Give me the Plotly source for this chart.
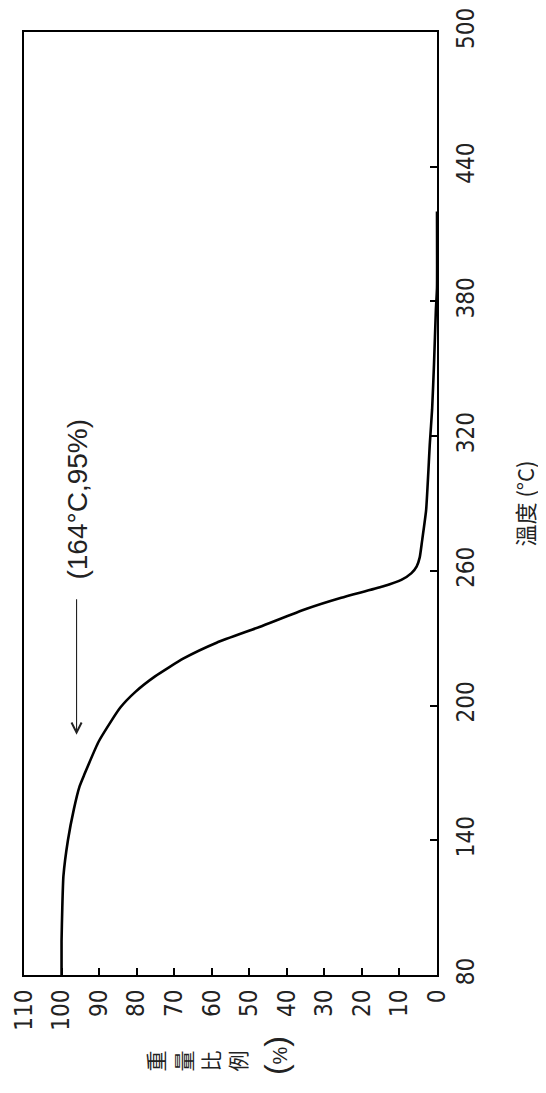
import plotly.graph_objects as go

# Thermogravimetric curve: temperature (°C) vs weight ratio (%)
temperature_c = [80, 95, 110, 124, 140, 154, 164, 169, 184, 199, 206, 213, 221, 228,
                 235, 243, 248, 253, 256, 259, 262, 266, 273, 287, 317, 332, 352, 376,
                 386, 420]
weight_pct = [100, 100, 99.8, 99.5, 98.3, 96.7, 95.2, 94.0, 90.1, 84.4, 80.4, 75.1, 67.5,
              58.7, 47.3, 34.9, 25.5, 14.5, 9.5, 6.8, 5.4, 4.6, 4.0, 2.9, 1.9, 1.3, 0.8,
              0.3, 0.0, 0.0]

temp_ticks = [80, 140, 200, 260, 320, 380, 440, 500]
weight_ticks = [110, 100, 90, 80, 70, 60, 50, 40, 30, 20, 10, 0]

annot_text = "(164°C,95%)"
annot_temp, annot_weight = 292, 96
arrow_tail_temp, arrow_tip_temp, arrow_weight = 248, 187, 96

NUM_FONT = "'Liberation Sans Narrow', 'DejaVu Sans Condensed', 'Liberation Sans', sans-serif"
CJK_FONT = "'Noto Sans CJK TC', 'Noto Sans CJK SC', sans-serif"

fig = go.Figure()
fig.add_trace(go.Scatter(
    x=weight_pct, y=temperature_c, mode="lines",
    line=dict(color="#000", width=2.6, shape="spline", smoothing=0.5),
    showlegend=False, hoverinfo="skip"))

axis_common = dict(ticks="inside", ticklen=7, tickwidth=1.5, tickcolor="#000",
                   showline=True, linecolor="#000", linewidth=1.8, mirror=True,
                   showgrid=False, zeroline=False, automargin=False,
                   ticklabeloverflow="allow", tickangle=-90,
                   tickfont=dict(family=NUM_FONT, size=24, color="#222"))

fig.update_layout(
    template=None,
    width=546, height=1093,
    margin=dict(l=16, r=117, t=24, b=126),
    paper_bgcolor="white", plot_bgcolor="white",
    showlegend=False,
    xaxis=dict(range=[110, 0], tickvals=weight_ticks, ticktext=[str(v) for v in weight_ticks],
               ticklabelstandoff=3, **axis_common),
    yaxis=dict(range=[80, 500], tickvals=temp_ticks, side="right",
               ticklabelstandoff=6, **axis_common,
               title=dict(text="\u00a0\u00a0\u00a0溫度 (°C)", standoff=40,
                          font=dict(family=CJK_FONT, size=22, color="#222"))),
)

fig.add_annotation(x=annot_weight, y=annot_temp, xref="x", yref="y", text=annot_text,
                   textangle=-90, showarrow=False,
                   font=dict(family="'Liberation Sans', sans-serif", size=28, color="#222"))
fig.add_annotation(x=arrow_weight, y=arrow_tip_temp, ax=arrow_weight, ay=arrow_tail_temp,
                   xref="x", yref="y", axref="x", ayref="y", text="",
                   showarrow=True, arrowhead=5, arrowsize=1.8, arrowwidth=1.1,
                   arrowcolor="#222")
fig.add_annotation(x=0.4165, y=-0.105, xref="paper", yref="paper",
                   text="重<br>量<br>比<br>例", textangle=-90, showarrow=False,
                   font=dict(family=CJK_FONT, size=21, color="#222"))
fig.add_annotation(x=0.612, y=-0.108, xref="paper", yref="paper",
                   text='<span style="font-size:32px">(</span>%<span style="font-size:32px">)</span>',
                   textangle=-90, showarrow=False,
                   font=dict(family="'Liberation Sans', sans-serif", size=20, color="#222"))

fig.write_html("out.html")
